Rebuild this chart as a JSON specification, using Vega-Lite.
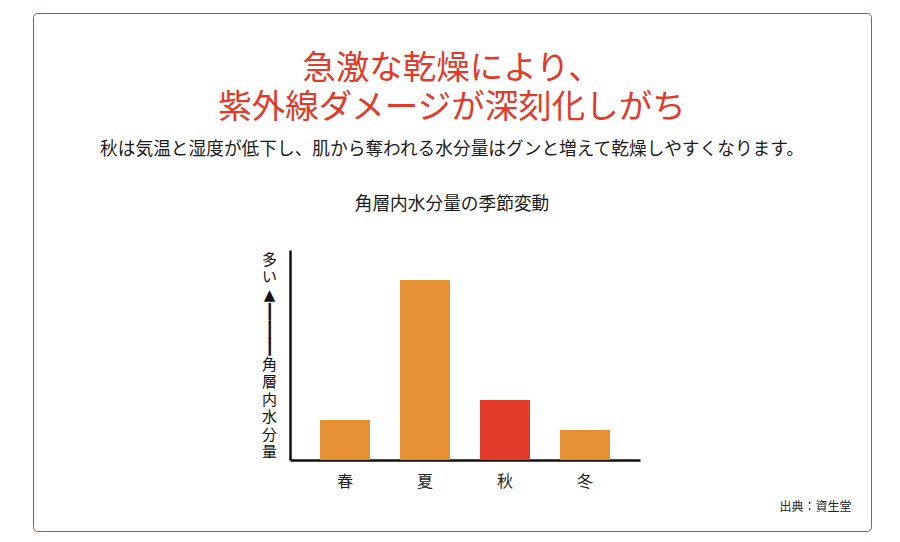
{
  "$schema": "https://vega.github.io/schema/vega-lite/v6.json",
  "description": "角層内水分量の季節変動",
  "autosize": "none",
  "padding": {"left": 33, "top": 13, "right": 29, "bottom": 11},
  "width": 838,
  "height": 518,
  "background": "white",
  "title": {
    "text": ["急激な乾燥により、", "紫外線ダメージが深刻化しがち"],
    "subtitle": ["秋は気温と湿度が低下し、肌から奪われる水分量はグンと増えて乾燥しやすくなります。", "角層内水分量の季節変動"],
    "anchor": "middle",
    "frame": "group",
    "baseline": "top",
    "offset": -202,
    "font": "Noto Sans CJK JP",
    "fontSize": 33.5,
    "fontWeight": "normal",
    "lineHeight": 39,
    "color": "#e23a2a",
    "subtitleFont": "Noto Sans CJK JP",
    "subtitleFontSize": 17.7,
    "subtitleColor": "#1a1a1a",
    "subtitleLineHeight": 55,
    "subtitlePadding": 16
  },
  "data": {
    "values": [
      {"season": "春", "moisture": 40},
      {"season": "夏", "moisture": 180},
      {"season": "秋", "moisture": 60},
      {"season": "冬", "moisture": 30}
    ]
  },
  "mark": {"type": "bar"},
  "encoding": {
    "x": {
      "field": "season", "type": "nominal", "sort": null,
      "scale": {"range": [257, 607], "paddingInner": 0.375, "paddingOuter": 0.375},
      "axis": {
        "offset": -71,
        "labelAngle": 0, "labelFontSize": 16, "labelPadding": 13, "labelColor": "#222",
        "labelFont": "Noto Sans CJK JP",
        "ticks": false, "domainColor": "#111", "domainWidth": 2.5,
        "title": "出典：資生堂", "titleFont": "Noto Sans CJK JP", "titleFontSize": 12,
        "titleFontWeight": "normal", "titleColor": "#222",
        "titleX": 782, "titleY": 46, "titleAlign": "center", "titleBaseline": "middle"
      }
    },
    "y": {
      "field": "moisture", "type": "quantitative",
      "scale": {"domain": [0, 210], "range": [447, 237], "nice": false},
      "axis": {
        "offset": -257,
        "grid": false, "ticks": false, "labels": false,
        "domainColor": "#111", "domainWidth": 2.5,
        "title": ["多", "い", "▲", "┃", "┃", "┃", "角", "層", "内", "水", "分", "量"],
        "titleFont": "DejaVu Sans, Noto Sans CJK JP", "titleFontSize": 15, "titleFontWeight": "normal",
        "titleLineHeight": 17.5, "titleColor": "#111", "titleAngle": 0,
        "titleX": -21, "titleY": 246, "titleAlign": "center", "titleBaseline": "middle"
      }
    },
    "color": {
      "field": "season", "type": "nominal", "legend": null,
      "scale": {"domain": ["春", "夏", "秋", "冬"], "range": ["#e69034", "#e69034", "#e23b29", "#e69034"]}
    }
  },
  "config": {
    "view": {"stroke": "#c8453b", "strokeWidth": 1, "cornerRadius": 4, "fill": "white"}
  }
}
